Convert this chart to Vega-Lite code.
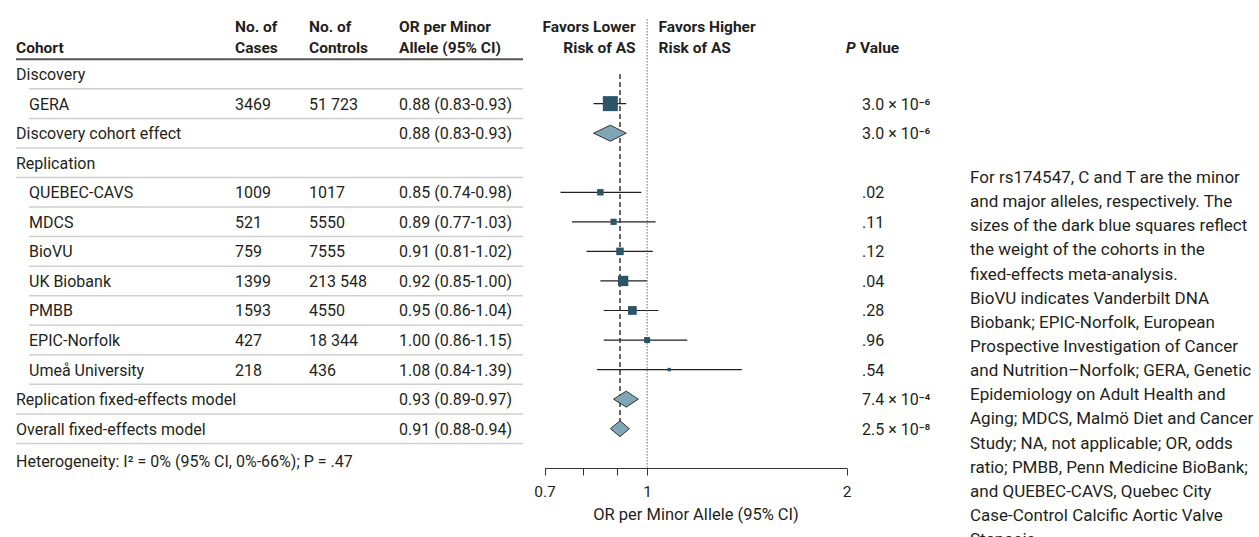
{
  "$schema": "https://vega.github.io/schema/vega-lite/v6.json",
  "width": 1259,
  "height": 468,
  "padding": 0,
  "background": "white",
  "config": {"view": {"stroke": null}, "font": "Roboto", "text": {"font": "Roboto", "color": "#231f20"}},
  "data": {"values": [
    {"label": "Discovery", "type": "group"},
    {"label": "GERA", "type": "study", "cases": "3469", "controls": "51 723", "orText": "0.88 (0.83-0.93)", "or": 0.88, "lo": 0.83, "hi": 0.93, "p": "3.0 × 10⁻⁶", "weight": 38},
    {"label": "Discovery cohort effect", "type": "summary", "orText": "0.88 (0.83-0.93)", "or": 0.88, "lo": 0.83, "hi": 0.93, "p": "3.0 × 10⁻⁶"},
    {"label": "Replication", "type": "group"},
    {"label": "QUEBEC-CAVS", "type": "study", "cases": "1009", "controls": "1017", "orText": "0.85 (0.74-0.98)", "or": 0.85, "lo": 0.74, "hi": 0.98, "p": ".02", "weight": 7},
    {"label": "MDCS", "type": "study", "cases": "521", "controls": "5550", "orText": "0.89 (0.77-1.03)", "or": 0.89, "lo": 0.77, "hi": 1.03, "p": ".11", "weight": 6.5},
    {"label": "BioVU", "type": "study", "cases": "759", "controls": "7555", "orText": "0.91 (0.81-1.02)", "or": 0.91, "lo": 0.81, "hi": 1.02, "p": ".12", "weight": 9.5},
    {"label": "UK Biobank", "type": "study", "cases": "1399", "controls": "213 548", "orText": "0.92 (0.85-1.00)", "or": 0.92, "lo": 0.85, "hi": 1.00, "p": ".04", "weight": 18},
    {"label": "PMBB", "type": "study", "cases": "1593", "controls": "4550", "orText": "0.95 (0.86-1.04)", "or": 0.95, "lo": 0.86, "hi": 1.04, "p": ".28", "weight": 13},
    {"label": "EPIC-Norfolk", "type": "study", "cases": "427", "controls": "18 344", "orText": "1.00 (0.86-1.15)", "or": 1.00, "lo": 0.86, "hi": 1.15, "p": ".96", "weight": 6},
    {"label": "Umeå University", "type": "study", "cases": "218", "controls": "436", "orText": "1.08 (0.84-1.39)", "or": 1.08, "lo": 0.84, "hi": 1.39, "p": ".54", "weight": 2},
    {"label": "Replication fixed-effects model", "type": "summary", "orText": "0.93 (0.89-0.97)", "or": 0.93, "lo": 0.89, "hi": 0.97, "p": "7.4 × 10⁻⁴"},
    {"label": "Overall fixed-effects model", "type": "summary", "orText": "0.91 (0.88-0.94)", "or": 0.91, "lo": 0.88, "hi": 0.94, "p": "2.5 × 10⁻⁸"}
  ]},
  "encoding": {
    "y": {"field": "label", "type": "nominal", "axis": null,
      "scale": {"type": "band", "domain": ["header", "Discovery", "GERA", "Discovery cohort effect", "Replication", "QUEBEC-CAVS", "MDCS", "BioVU", "UK Biobank", "PMBB", "EPIC-Norfolk", "Umeå University", "Replication fixed-effects model", "Overall fixed-effects model"],
        "paddingInner": 0, "paddingOuter": 0.919, "align": 0.548}}
  },
  "layer": [
    {"layer": [
      {"transform": [{"filter": "datum.label == 'Discovery'"}],
       "mark": {"type": "rule", "color": "#555555", "strokeWidth": 2},
       "encoding": {"y": {"field": "label", "type": "nominal", "bandPosition": 0, "axis": null},
         "x": {"datum": 16, "type": "quantitative", "axis": null, "scale": {"domain": [0, 1259], "nice": false, "zero": false}},
         "x2": {"datum": 523}}},
      {"transform": [{"filter": "datum.type == 'study' || datum.label == 'Discovery'"}],
       "mark": {"type": "rule", "color": "#cfcfcf", "strokeWidth": 1.5},
       "encoding": {"y": {"field": "label", "type": "nominal", "bandPosition": 1, "axis": null},
         "x": {"datum": 29, "type": "quantitative", "axis": null}, "x2": {"datum": 523}}},
      {"transform": [{"filter": "datum.type != 'study' && datum.label != 'Discovery'"}],
       "mark": {"type": "rule", "color": "#cfcfcf", "strokeWidth": 1.5},
       "encoding": {"y": {"field": "label", "type": "nominal", "bandPosition": 1, "axis": null},
         "x": {"datum": 16, "type": "quantitative", "axis": null}, "x2": {"datum": 523}}},
      {"transform": [{"filter": "datum.type != 'study'"}],
       "mark": {"type": "text", "align": "left", "baseline": "alphabetic", "dy": 6, "fontSize": 16},
       "encoding": {"x": {"datum": 16, "type": "quantitative", "axis": null}, "text": {"field": "label"}}},
      {"transform": [{"filter": "datum.type == 'study'"}],
       "mark": {"type": "text", "align": "left", "baseline": "alphabetic", "dy": 6, "fontSize": 16},
       "encoding": {"x": {"datum": 29, "type": "quantitative", "axis": null}, "text": {"field": "label"}}},
      {"transform": [{"filter": "datum.type == 'study'"}],
       "mark": {"type": "text", "align": "left", "baseline": "alphabetic", "dy": 6, "fontSize": 16},
       "encoding": {"x": {"datum": 235, "type": "quantitative", "axis": null}, "text": {"field": "cases"}}},
      {"transform": [{"filter": "datum.type == 'study'"}],
       "mark": {"type": "text", "align": "left", "baseline": "alphabetic", "dy": 6, "fontSize": 16},
       "encoding": {"x": {"datum": 309, "type": "quantitative", "axis": null}, "text": {"field": "controls"}}},
      {"transform": [{"filter": "datum.type != 'group'"}],
       "mark": {"type": "text", "align": "left", "baseline": "alphabetic", "dy": 6, "fontSize": 16},
       "encoding": {"x": {"datum": 399, "type": "quantitative", "axis": null}, "text": {"field": "orText"}}},
      {"transform": [{"filter": "datum.type != 'group'"}],
       "mark": {"type": "text", "align": "left", "baseline": "alphabetic", "dy": 6, "fontSize": 16},
       "encoding": {"x": {"datum": 862, "type": "quantitative", "axis": null}, "text": {"field": "p"}}},
      {"data": {"values": [{}]},
       "mark": {"type": "text", "align": "left", "baseline": "alphabetic", "dy": -20.75, "fontSize": 15.5, "fontWeight": "bold", "text": "Cohort"},
       "encoding": {"x": {"datum": 16, "type": "quantitative", "axis": null}, "y": {"datum": "Discovery", "type": "nominal", "axis": null}}},
      {"data": {"values": [{}]},
       "mark": {"type": "text", "align": "left", "baseline": "alphabetic", "dy": -41.75, "lineHeight": 21, "fontSize": 15.5, "fontWeight": "bold", "text": ["No. of", "Cases"]},
       "encoding": {"x": {"datum": 235, "type": "quantitative", "axis": null}, "y": {"datum": "Discovery", "type": "nominal", "axis": null}}},
      {"data": {"values": [{}]},
       "mark": {"type": "text", "align": "left", "baseline": "alphabetic", "dy": -41.75, "lineHeight": 21, "fontSize": 15.5, "fontWeight": "bold", "text": ["No. of", "Controls"]},
       "encoding": {"x": {"datum": 309, "type": "quantitative", "axis": null}, "y": {"datum": "Discovery", "type": "nominal", "axis": null}}},
      {"data": {"values": [{}]},
       "mark": {"type": "text", "align": "left", "baseline": "alphabetic", "dy": -41.75, "lineHeight": 21, "fontSize": 15.5, "fontWeight": "bold", "text": ["OR per Minor", "Allele (95% CI)"]},
       "encoding": {"x": {"datum": 399, "type": "quantitative", "axis": null}, "y": {"datum": "Discovery", "type": "nominal", "axis": null}}},
      {"data": {"values": [{}]},
       "mark": {"type": "text", "align": "left", "baseline": "alphabetic", "dy": -20.75, "fontSize": 15.5, "fontWeight": "bold", "fontStyle": "italic", "text": "P"},
       "encoding": {"x": {"datum": 846, "type": "quantitative", "axis": null}, "y": {"datum": "Discovery", "type": "nominal", "axis": null}}},
      {"data": {"values": [{}]},
       "mark": {"type": "text", "align": "left", "baseline": "alphabetic", "dx": 14, "dy": -20.75, "fontSize": 15.5, "fontWeight": "bold", "text": "Value"},
       "encoding": {"x": {"datum": 846, "type": "quantitative", "axis": null}, "y": {"datum": "Discovery", "type": "nominal", "axis": null}}},
      {"data": {"values": [{}]},
       "mark": {"type": "text", "align": "left", "baseline": "alphabetic", "dy": 38.5, "fontSize": 16, "text": "Heterogeneity: I² = 0% (95% CI, 0%-66%); P = .47"},
       "encoding": {"x": {"datum": 16, "type": "quantitative", "axis": null}, "y": {"datum": "Overall fixed-effects model", "type": "nominal", "axis": null}}},
      {"data": {"values": [{}]},
       "mark": {"type": "text", "align": "left", "baseline": "alphabetic", "dy": -9.3, "lineHeight": 24.15, "fontSize": 17,
         "text": ["For rs174547, C and T are the minor", "and major alleles, respectively. The", "sizes of the dark blue squares reflect", "the weight of the cohorts in the", "fixed-effects meta-analysis.", "BioVU indicates Vanderbilt DNA", "Biobank; EPIC-Norfolk, European", "Prospective Investigation of Cancer", "and Nutrition–Norfolk; GERA, Genetic", "Epidemiology on Adult Health and", "Aging; MDCS, Malmö Diet and Cancer", "Study; NA, not applicable; OR, odds", "ratio; PMBB, Penn Medicine BioBank;", "and QUEBEC-CAVS, Quebec City", "Case-Control Calcific Aortic Valve", "Stenosis."]},
       "encoding": {"x": {"datum": 970, "type": "quantitative", "axis": null}, "y": {"datum": "QUEBEC-CAVS", "type": "nominal", "axis": null}}}
    ]},
    {"layer": [
      {"transform": [{"filter": "datum.type == 'study'"}],
       "mark": {"type": "rule", "color": "#231f20", "strokeWidth": 1.2},
       "encoding": {
         "x": {"field": "lo", "type": "quantitative",
           "scale": {"type": "log", "domain": [0.7, 2], "range": [544.5, 846.5], "nice": false},
           "axis": {"orient": "bottom", "values": [0.7, 0.8, 0.9, 1, 2], "grid": false,
             "labelExpr": "datum.value == 0.7 ? '0.7' : datum.value == 1 ? '1' : datum.value == 2 ? '2' : ''",
             "tickSize": 7, "tickColor": "#333333", "domainColor": "#333333", "tickWidth": 1, "domainWidth": 1,
             "labelFont": "Roboto", "labelFontSize": 15.5, "labelColor": "#231f20", "labelPadding": 9, "labelFlush": false, "labelOverlap": false,
             "title": "OR per Minor Allele (95% CI)", "titleFont": "Roboto", "titleFontWeight": "normal", "titleFontSize": 16.5, "titleColor": "#231f20", "titlePadding": 7}},
         "x2": {"field": "hi"}}},
      {"data": {"values": [{}]},
       "mark": {"type": "rule", "color": "#666666", "strokeWidth": 1, "strokeDash": [1.5, 1.5], "yOffset": -55, "y2Offset": 39.3},
       "encoding": {"x": {"datum": 1, "type": "quantitative", "scale": {"type": "log"}},
         "y": {"datum": "Discovery", "type": "nominal", "axis": null},
         "y2": {"datum": "Overall fixed-effects model"}}},
      {"transform": [{"filter": "datum.label == 'Overall fixed-effects model'"}],
       "mark": {"type": "rule", "color": "#333333", "strokeWidth": 1.5, "strokeDash": [5, 3]},
       "encoding": {"x": {"field": "or", "type": "quantitative", "scale": {"type": "log"}},
         "y": {"datum": "Discovery", "type": "nominal", "axis": null},
         "y2": {"field": "label"}}},
      {"transform": [{"filter": "datum.type == 'study'"}],
       "mark": {"type": "point", "shape": "square", "filled": true, "color": "#2c5566", "opacity": 1, "strokeWidth": 0},
       "encoding": {"x": {"field": "or", "type": "quantitative", "scale": {"type": "log"}},
         "size": {"field": "weight", "type": "quantitative", "scale": {"domain": [0, 38], "range": [0, 225]}, "legend": null}}},
      {"transform": [{"filter": "datum.type == 'summary'"}],
       "mark": {"type": "point", "filled": true, "fill": "#7fa6b6", "stroke": "#333333", "strokeWidth": 1, "opacity": 1, "size": 256},
       "encoding": {"x": {"field": "or", "type": "quantitative", "scale": {"type": "log"}},
         "shape": {"field": "label", "type": "nominal", "legend": null,
           "scale": {"domain": ["Discovery cohort effect", "Replication fixed-effects model", "Overall fixed-effects model"],
             "range": ["M-2.10,0L0,-1L1.99,0L0,1Z", "M-1.58,0L0,-1L1.51,0L0,1Z", "M-1.20,0L0,-1L1.17,0L0,1Z"]}}}},
      {"data": {"values": [{}]},
       "mark": {"type": "text", "align": "right", "baseline": "alphabetic", "dx": -11.5, "dy": -41.75, "lineHeight": 21, "fontSize": 15.5, "fontWeight": "bold", "text": ["Favors Lower", "Risk of AS"]},
       "encoding": {"x": {"datum": 1, "type": "quantitative", "scale": {"type": "log"}}, "y": {"datum": "Discovery", "type": "nominal", "axis": null}}},
      {"data": {"values": [{}]},
       "mark": {"type": "text", "align": "left", "baseline": "alphabetic", "dx": 11.5, "dy": -41.75, "lineHeight": 21, "fontSize": 15.5, "fontWeight": "bold", "text": ["Favors Higher", "Risk of AS"]},
       "encoding": {"x": {"datum": 1, "type": "quantitative", "scale": {"type": "log"}}, "y": {"datum": "Discovery", "type": "nominal", "axis": null}}}
    ]}
  ],
  "resolve": {"scale": {"x": "independent"}, "axis": {"x": "independent"}}
}
